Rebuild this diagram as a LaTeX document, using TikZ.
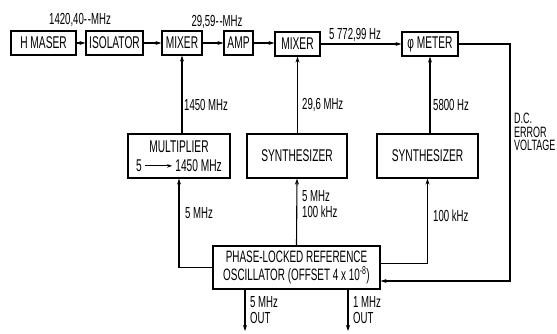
\documentclass[tikz,border=0pt]{standalone}
\usepackage{fontspec}
\setmainfont[FakeStretch=0.6]{Liberation Sans}
\usetikzlibrary{arrows.meta}
\begin{document}
\begin{tikzpicture}[x=1pt,y=-1pt,
  every node/.style={font=\fontsize{17}{18}\selectfont, inner sep=0pt},
  blk/.style={draw, line width=1.2pt, minimum height=24pt, align=center},
  lbl/.style={font=\fontsize{16}{16}\selectfont, anchor=west, align=left},
  wire/.style={line width=1.1pt},
  arr/.style={wire, -{Stealth[length=6pt,width=4pt]}}]
\useasboundingbox (0,0) rectangle (557,333);
% top row
\node[blk, minimum width=65pt] (hm)  at (43.5,43)  {H MASER};
\node[blk, minimum width=57pt] (iso) at (114.5,43) {ISOLATOR};
\node[blk, minimum width=40pt] (mx1) at (182,43)   {MIXER};
\node[blk, minimum width=29pt] (amp) at (238.5,43) {AMP};
\node[blk, minimum width=45pt] (mx2) at (297.5,44) {MIXER};
\node[blk, minimum width=56pt] (phm) at (430,44)   {φ METER};
% middle row
\node[blk, minimum width=102pt, minimum height=44pt] (mult) at (179,156)
  {MULTIPLIER\\[1pt]5 \tikz[baseline=-0.6ex]\draw[line width=0.9pt,-{Stealth[length=5pt,width=3.5pt]}] (0pt,0pt) -- (27pt,0pt); 1450 MHz};
\node[blk, minimum width=100pt, minimum height=44pt] (syn1) at (297,156) {SYNTHESIZER};
\node[blk, minimum width=101pt, minimum height=44pt] (syn2) at (427.5,156) {SYNTHESIZER};
% oscillator
\node[blk, minimum width=167pt, minimum height=43pt, font=\fontsize{16.5}{17.5}\selectfont] (osc) at (296.5,267.5)
  {PHASE-LOCKED REFERENCE\\OSCILLATOR (OFFSET 4\,x\,10\textsuperscript{-8})};
% free ends
\coordinate (dc) at (510,281);
\coordinate (o5) at (245,331);
\coordinate (o1) at (348,331);
% labels
\node[lbl, anchor=center] (l1) at (80,20) {1420,40-\kern0.8pt-MHz};
\node[lbl, anchor=center] (l2) at (217,22) {29,59-\kern0.8pt-MHz};
\node[lbl, anchor=center] (l3) at (355,35) {5 772,99 Hz};
\node[lbl] (l4) at (184,105) {1450 MHz};
\node[lbl] (l5) at (302,105) {29,6 MHz};
\node[lbl] (l6) at (433,105) {5800 Hz};
\node[lbl] (l7) at (185,213) {5 MHz};
\node[lbl] (l8) at (302,204.5) {5 MHz\\100 kHz};
\node[lbl] (l9) at (433,216) {100 kHz};
\node[lbl, font=\fontsize{15}{13.5}\selectfont] (l10) at (514,132) {D.C.\\ERROR\\VOLTAGE};
\node[lbl] (l11) at (250,310.5) {5 MHz\\OUT};
\node[lbl] (l12) at (353,310.5) {1 MHz\\OUT};
% connectors
\draw[arr] (hm) -- (iso);
\draw[arr] (iso) -- (mx1);
\draw[arr] (mx1) -- (amp);
\draw[arr] (amp.east) -- (mx2.west |- amp.east);
\draw[arr] (mx2) -- (phm);
\draw[arr] (mx1.south |- mult.north) -- (mx1.south);
\draw[arr] (mx2.south |- syn1.north) -- (mx2.south);
\draw[arr] (phm.south |- syn2.north) -- (phm.south);
\draw[arr] (osc.north) -- (syn1.south);
\draw[arr] (osc.west) -| (mult.south);
\draw[arr] ([yshift=4pt]osc.east) -| (syn2.south);
\draw[arr] (phm.east) -| (dc) -- (osc.east |- dc);
\draw[arr] (osc.south -| o5) -- (o5);
\draw[arr] (osc.south -| o1) -- (o1);
\end{tikzpicture}
\end{document}
